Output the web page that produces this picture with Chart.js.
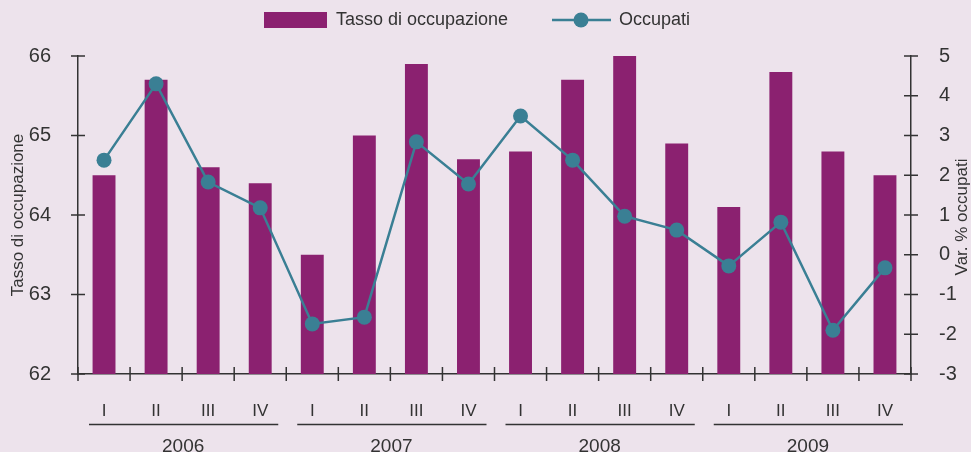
<!DOCTYPE html>
<html>
<head>
<meta charset="utf-8">
<script src="https://cdn.jsdelivr.net/npm/chart.js@4"></script>
<style>
  html, body { margin: 0; padding: 0; background: #ede3ec; }
  #wrap { width: 971px; height: 452px; position: relative; }
</style>
</head>
<body>
<div id="wrap"><canvas id="chart"></canvas></div>
<script>
const quarters = ['I', 'II', 'III', 'IV', 'I', 'II', 'III', 'IV', 'I', 'II', 'III', 'IV', 'I', 'II', 'III', 'IV'];
const years = ['2006', '2007', '2008', '2009'];
const tasso = [64.5, 65.7, 64.6, 64.4, 63.5, 65.0, 65.9, 64.7, 64.8, 65.7, 66.0, 64.9, 64.1, 65.8, 64.8, 64.5];
const occupati = [2.38, 4.3, 1.83, 1.18, -1.74, -1.57, 2.84, 1.78, 3.49, 2.38, 0.97, 0.62, -0.28, 0.82, -1.9, -0.33];

const BG = '#ede3ec';
const BAR = '#8b2170';
const LINE = '#3a7f94';
const INK = '#333333';
const FONT = '"Liberation Sans", Arial, sans-serif';

const decor = {
    id: 'decor',
    beforeDraw(chart) {
        const ctx = chart.ctx;
        ctx.save();
        ctx.fillStyle = BG;
        ctx.fillRect(0, 0, chart.width, chart.height);
        ctx.restore();
    },
    afterDraw(chart) {
        const ctx = chart.ctx;
        const x = chart.scales.x, yl = chart.scales.y, yr = chart.scales.y1;
        const area = chart.chartArea;
        ctx.save();
        ctx.strokeStyle = INK;
        ctx.lineWidth = 1.5;

        // tick marks crossing the axes
        ctx.beginPath();
        yl.ticks.forEach(t => {
            const py = yl.getPixelForValue(t.value);
            ctx.moveTo(area.left - 7, py); ctx.lineTo(area.left + 7, py);
        });
        yr.ticks.forEach(t => {
            const py = yr.getPixelForValue(t.value);
            ctx.moveTo(area.right - 7, py); ctx.lineTo(area.right + 7, py);
        });
        const step = x.getPixelForValue(1) - x.getPixelForValue(0);
        for (let i = 0; i <= quarters.length; i++) {
            const px = x.getPixelForValue(0) - step / 2 + i * step;
            ctx.moveTo(px, area.bottom - 7); ctx.lineTo(px, area.bottom + 7);
        }
        ctx.stroke();

        // year groups
        ctx.fillStyle = INK;
        ctx.font = '19px ' + FONT;
        ctx.textAlign = 'center';
        ctx.textBaseline = 'middle';
        years.forEach((yr, g) => {
            const l = x.getPixelForValue(g * 4) - step / 2;
            const r = x.getPixelForValue(g * 4 + 3) + step / 2;
            ctx.beginPath();
            ctx.moveTo(l + 11, 424.5); ctx.lineTo(r - 8, 424.5);
            ctx.stroke();
            ctx.fillText(yr, (l + r) / 2 + 1, 447);
        });

        // axis titles
        ctx.font = '17px ' + FONT;
        ctx.save();
        ctx.translate(18, 215);
        ctx.rotate(-Math.PI / 2);
        ctx.fillText('Tasso di occupazione', 0, 0);
        ctx.restore();
        ctx.save();
        ctx.translate(962, 217);
        ctx.rotate(-Math.PI / 2);
        ctx.fillText('Var. % occupati', 0, 0);
        ctx.restore();

        // legend
        ctx.fillStyle = BAR;
        ctx.fillRect(264, 12, 63, 16);
        ctx.fillStyle = INK;
        ctx.font = '18px ' + FONT;
        ctx.textAlign = 'left';
        ctx.fillText('Tasso di occupazione', 336, 20);
        ctx.strokeStyle = LINE;
        ctx.lineWidth = 2.5;
        ctx.beginPath();
        ctx.moveTo(552, 20); ctx.lineTo(611, 20);
        ctx.stroke();
        ctx.fillStyle = LINE;
        ctx.beginPath();
        ctx.arc(581, 20, 7.5, 0, Math.PI * 2);
        ctx.fill();
        ctx.fillStyle = INK;
        ctx.fillText('Occupati', 619, 20);
        ctx.restore();
    }
};

new Chart(document.getElementById('chart'), {
    data: {
        labels: quarters,
        datasets: [
            {
                type: 'line',
                label: 'Occupati',
                data: occupati,
                yAxisID: 'y1',
                borderColor: LINE,
                backgroundColor: LINE,
                borderWidth: 2.5,
                pointRadius: 7.5,
                pointHoverRadius: 7.5,
                pointBorderWidth: 0,
                tension: 0,
                order: 0
            },
            {
                type: 'bar',
                label: 'Tasso di occupazione',
                data: tasso,
                yAxisID: 'y',
                backgroundColor: BAR,
                barPercentage: 0.44,
                categoryPercentage: 1,
                order: 1
            }
        ]
    },
    options: {
        responsive: true,
        maintainAspectRatio: false,
        animation: false,
        layout: { padding: { top: 56 } },
        plugins: { legend: { display: false }, tooltip: { enabled: false } },
        scales: {
            x: {
                offset: true,
                grid: { display: false },
                border: { display: true, color: INK, width: 1.5 },
                ticks: { color: INK, font: { size: 17, family: FONT }, padding: 19, maxRotation: 0, autoSkip: false },
                afterFit(scale) { scale.height = 78; }
            },
            y: {
                position: 'left',
                min: 62, max: 66,
                grid: { display: false },
                border: { display: true, color: INK, width: 1.5 },
                ticks: { stepSize: 1, color: INK, font: { size: 20, family: FONT }, padding: 19 },
                afterFit(scale) { scale.width = 78; }
            },
            y1: {
                position: 'right',
                min: -3, max: 5,
                grid: { display: false },
                border: { display: true, color: INK, width: 1.5 },
                ticks: { stepSize: 1, color: INK, font: { size: 20, family: FONT }, padding: 20 },
                afterFit(scale) { scale.width = 60; }
            }
        }
    },
    plugins: [decor]
});
</script>
</body>
</html>
